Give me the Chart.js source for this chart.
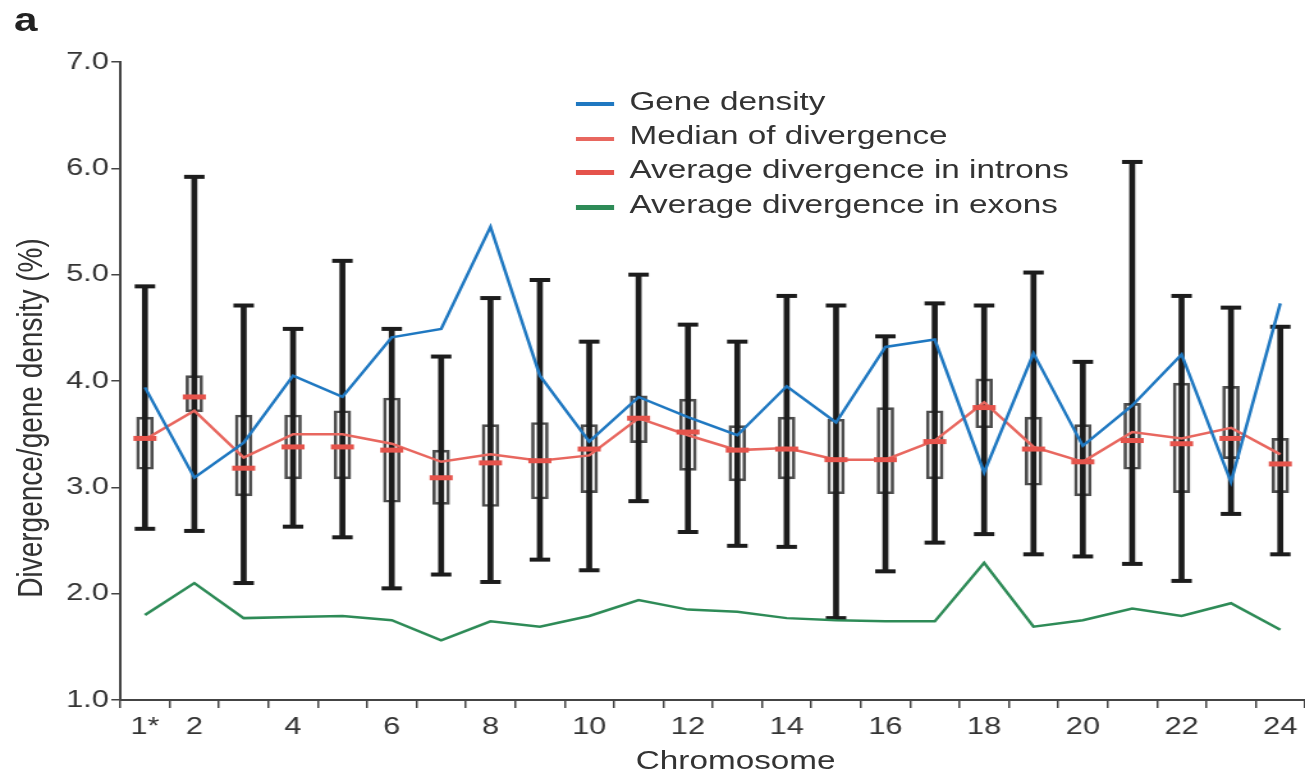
<!DOCTYPE html>
<html>
<head>
<meta charset="utf-8">
<script src="https://cdn.jsdelivr.net/npm/chart.js@4.4.1/dist/chart.umd.min.js"></script>
<style>
    html, body { margin: 0; padding: 0; background: #fff; overflow: hidden; }
    /* the original figure is stretched sideways, so the whole stage is too */
    #stage {
        position: absolute; left: 0; top: 0;
        width: 1020px; height: 775px;
        transform: scaleX(1.2794); transform-origin: 0 0;
        font-family: "Liberation Sans", Arial, sans-serif; color: #333;
    }
    #chart { position: absolute; left: 0; top: 0; }
    .panel { position: absolute; left: 11px; top: 3px; font-size: 33px; line-height: 1; font-weight: bold; color: #222; }
    .ytitle { position: absolute; left: 23.5px; top: 418px; transform: translate(-50%, -50%) rotate(-90deg); font-size: 28px; white-space: nowrap; }
    .xtitle { position: absolute; left: 575px; top: 760px; transform: translate(-50%, -50%); font-size: 26px; white-space: nowrap; }
    #legend { position: absolute; left: 450px; top: 84px; }
    .row { display: flex; align-items: center; height: 34.4px; font-size: 26px; white-space: nowrap; }
    .swatch { width: 30px; margin-right: 12px; position: relative; top: 3px; }
</style>
</head>
<body>
<div id="stage">
    <canvas id="chart" width="1020" height="775"></canvas>
    <div class="panel">a</div>
    <div class="ytitle">Divergence/gene density (%)</div>
    <div class="xtitle">Chromosome</div>
    <div id="legend"></div>
</div>
<script>
const chromosomes = ['1*', '2', '3', '4', '5', '6', '7', '8', '9', '10', '11', '12',
    '13', '14', '15', '16', '17', '18', '19', '20', '21', '22', '23', '24'];

// whiskers and boxes of the divergence distribution
const whiskerLow  = [2.61, 2.59, 2.10, 2.63, 2.53, 2.05, 2.18, 2.11, 2.32, 2.22, 2.87, 2.58,
    2.45, 2.44, 1.77, 2.21, 2.48, 2.56, 2.37, 2.35, 2.28, 2.12, 2.75, 2.37];
const whiskerHigh = [4.89, 5.92, 4.71, 4.49, 5.13, 4.49, 4.23, 4.78, 4.95, 4.37, 5.00, 4.53,
    4.37, 4.80, 4.71, 4.42, 4.73, 4.71, 5.02, 4.18, 6.06, 4.80, 4.69, 4.51];
const boxLow  = [3.17, 3.71, 2.92, 3.08, 3.08, 2.86, 2.84, 2.82, 2.89, 2.95, 3.42, 3.16,
    3.06, 3.08, 2.94, 2.94, 3.08, 3.56, 3.02, 2.92, 3.17, 2.95, 3.27, 2.95];
const boxHigh = [3.66, 4.05, 3.68, 3.68, 3.72, 3.84, 3.35, 3.59, 3.61, 3.59, 3.86, 3.83,
    3.58, 3.66, 3.64, 3.75, 3.72, 4.02, 3.66, 3.59, 3.79, 3.98, 3.95, 3.46];

const medianDivergence = [3.45, 3.72, 3.28, 3.50, 3.50, 3.41, 3.24, 3.31, 3.25, 3.30, 3.65, 3.49,
    3.35, 3.37, 3.26, 3.26, 3.44, 3.80, 3.38, 3.24, 3.52, 3.46, 3.56, 3.31];
const intronDivergence = [3.46, 3.85, 3.18, 3.38, 3.38, 3.35, 3.09, 3.23, 3.25, 3.36, 3.65, 3.52,
    3.35, 3.36, 3.26, 3.26, 3.43, 3.75, 3.36, 3.24, 3.44, 3.41, 3.46, 3.22];
const exonDivergence = [1.80, 2.10, 1.77, 1.78, 1.79, 1.75, 1.56, 1.74, 1.69, 1.79, 1.94, 1.85,
    1.83, 1.77, 1.75, 1.74, 1.74, 2.29, 1.69, 1.75, 1.86, 1.79, 1.91, 1.66];
const geneDensity = [3.94, 3.09, 3.42, 4.05, 3.85, 4.41, 4.49, 5.45, 4.05, 3.43, 3.85, 3.66,
    3.49, 3.95, 3.61, 4.32, 4.39, 3.14, 4.26, 3.39, 3.77, 4.25, 3.05, 4.73];

const fontFamily = '"Liberation Sans", Arial, sans-serif';
const axisColor = '#444';
const whiskerColor = '#1c1c1c';

const chart = new Chart(document.getElementById('chart'), {
    type: 'bar',
    data: {
        labels: chromosomes,
        datasets: [
            {
                label: 'Gene density', type: 'line', data: geneDensity,
                borderColor: '#1f78c1', borderWidth: 2.5, pointRadius: 0, order: 1,
                inLegend: true, swatchHeight: 4
            },
            {
                label: 'Median of divergence', type: 'line', data: medianDivergence,
                borderColor: '#e8675f', borderWidth: 2.5, pointRadius: 0, order: 3,
                inLegend: true, swatchHeight: 4
            },
            {
                label: 'Average divergence in introns', type: 'line', data: intronDivergence,
                showLine: false, pointStyle: 'line', pointRadius: 9, pointBorderWidth: 5,
                borderColor: '#e5534b', pointBorderColor: '#e5534b', order: 2,
                inLegend: true, swatchHeight: 5
            },
            {
                label: 'Average divergence in exons', type: 'line', data: exonDivergence,
                borderColor: '#2e8b57', borderWidth: 2.5, pointRadius: 0, order: 4,
                inLegend: true, swatchHeight: 5
            },
            {
                label: 'Upper whisker', type: 'line', data: whiskerHigh,
                showLine: false, pointStyle: 'line', pointRadius: 8, pointBorderWidth: 4,
                borderColor: whiskerColor, pointBorderColor: whiskerColor, order: 5
            },
            {
                label: 'Lower whisker', type: 'line', data: whiskerLow,
                showLine: false, pointStyle: 'line', pointRadius: 8, pointBorderWidth: 4,
                borderColor: whiskerColor, pointBorderColor: whiskerColor, order: 5
            },
            {
                label: 'Range', data: whiskerLow.map((v, i) => [v, whiskerHigh[i]]),
                backgroundColor: whiskerColor, borderWidth: 0,
                barThickness: 4, grouped: false, order: 6
            },
            {
                label: 'Box', data: boxLow.map((v, i) => [v, boxHigh[i]]),
                backgroundColor: 'rgba(255,255,255,0)', borderColor: '#4d4d4d',
                borderWidth: 2, borderSkipped: false,
                barThickness: 13, grouped: false, order: 7
            }
        ]
    },
    options: {
        responsive: false,
        animation: false,
        events: [],
        layout: {
            autoPadding: false,
            padding: { top: 62, right: 0, bottom: 0, left: 0 }
        },
        plugins: {
            legend: { display: false },
            tooltip: { enabled: false }
        },
        scales: {
            x: {
                offset: true,
                grid: { offset: true, drawOnChartArea: false, tickLength: 8, color: axisColor, lineWidth: 1.5 },
                border: { color: axisColor, width: 2 },
                ticks: {
                    autoSkip: false, maxRotation: 0, padding: 5, color: '#333',
                    font: { family: fontFamily, size: 24 },
                    callback: function (value, index) {
                        return (index === 0 || index % 2 === 1) ? this.getLabelForValue(value) : '';
                    }
                },
                afterFit: scale => { scale.height = 75; }
            },
            y: {
                min: 1,
                max: 7,
                grid: { drawOnChartArea: false, tickLength: 7, color: axisColor, lineWidth: 1.5 },
                border: { color: axisColor, width: 2 },
                ticks: {
                    stepSize: 1, padding: 2, color: '#333',
                    font: { family: fontFamily, size: 24 },
                    callback: value => value.toFixed(1)
                },
                afterFit: scale => { scale.width = 94; }
            }
        }
    }
});

// Legend built from the chart's own series
const legendBox = document.getElementById('legend');
chart.data.datasets.filter(ds => ds.inLegend).forEach(ds => {
    const row = document.createElement('div');
    row.className = 'row';
    const swatch = document.createElement('span');
    swatch.className = 'swatch';
    swatch.style.height = ds.swatchHeight + 'px';
    swatch.style.background = ds.borderColor;
    const text = document.createElement('span');
    text.textContent = ds.label;
    row.appendChild(swatch);
    row.appendChild(text);
    legendBox.appendChild(row);
});
</script>
</body>
</html>
